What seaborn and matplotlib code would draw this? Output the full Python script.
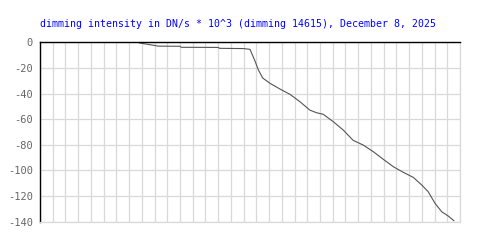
import matplotlib
matplotlib.use("Agg")
import matplotlib.pyplot as plt
import seaborn as sns
import pandas as pd
import numpy as np

# time index (grid column units) and dimming intensity values
t = [7.8, 8.9, 9.3, 11.0, 11.1, 14.0, 14.1, 16.0, 16.5,
     16.9, 17.15, 17.5, 18.07, 18.86, 19.64, 20.43, 21.2, 21.74, 22.26,
     23.05, 23.83, 24.6, 25.4, 26.19, 26.97, 27.76, 28.55, 29.33, 30.0,
     30.5, 31.04, 31.56, 32.08, 32.53]
intensity = [-0.5, -2.3, -3.0, -3.1, -3.9, -4.0, -4.7, -4.9, -5.5,
             -14.8, -21.4, -27.9, -32.0, -36.5, -40.6, -46.4, -52.9, -55.0, -56.2,
             -62.0, -68.5, -76.5, -80.2, -85.4, -91.3, -97.1, -101.5, -105.4, -111.4,
             -116.6, -125.7, -132.2, -135.6, -139.3]
yticks = [0, -20, -40, -60, -80, -100, -120, -140]
title = "dimming intensity in DN/s * 10^3 (dimming 14615), December 8, 2025"

sns.set_theme(style="white")
plt.rcParams['font.family'] = ['DejaVu Sans Mono', 'DejaVu Sans']

df = pd.DataFrame({"t": t, "v": intensity})

fig = plt.figure(figsize=(5, 2.5), dpi=100)
ax = fig.add_axes([0.08, 0.1132, 0.84, 0.7176])
sns.lineplot(data=df, x="t", y="v", ax=ax, color="#555555", linewidth=0.8)

ax.set_xlim(0, 33)
ax.set_ylim(-140, 0)
ax.set_xticks(np.arange(0, 34, 1))
ax.set_xticklabels([])
ax.set_yticks(yticks)
ax.set_yticklabels([str(v) for v in yticks])
ax.tick_params(axis="both", length=0, pad=5)
ax.tick_params(axis="y", labelsize=7.5, labelcolor="#666666")
ax.grid(True, color="#d9d9d9", linewidth=0.9)
ax.set_axisbelow(True)
for s in ["right", "bottom"]:
    ax.spines[s].set_color("#d9d9d9")
    ax.spines[s].set_linewidth(0.9)
for s in ["left", "top"]:
    ax.spines[s].set_color("black")
    ax.spines[s].set_linewidth(1.0)
ax.set_xlabel("")
ax.set_ylabel("")
fig.text(0.08, 1 - 26.7 / 250, title, color="#0000ff", fontsize=7.15,
         ha="left", va="baseline")

fig.savefig("out.png", dpi=100)
